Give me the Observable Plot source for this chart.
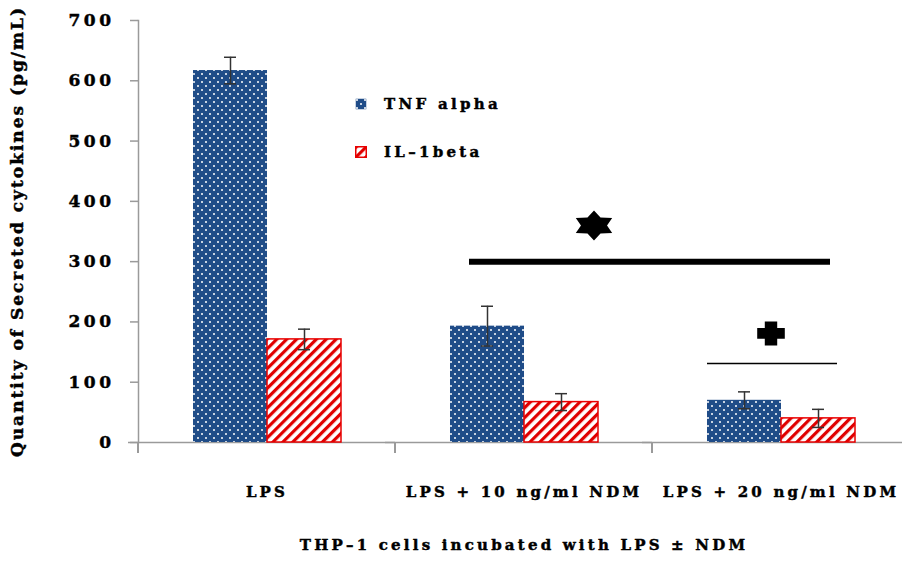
<!DOCTYPE html>
<html><head><meta charset="utf-8">
<script src="https://cdn.jsdelivr.net/npm/d3@7"></script>
<script src="https://cdn.jsdelivr.net/npm/@observablehq/plot@0.6"></script>
<style>
body{margin:0;background:#fff;}
#wrap{position:relative;width:902px;height:561px;overflow:hidden;}
#wrap svg text{stroke:#000;stroke-width:0.45px;}
#wrap svg g[aria-label="y-axis label"] text{letter-spacing:2px;}
#wrap svg g[aria-label="y-axis tick label"] text{letter-spacing:3.5px;}
.leg{position:absolute;left:355px;font-family:"DejaVu Serif",serif;font-weight:bold;font-size:15px;letter-spacing:3.3px;color:#000;display:flex;align-items:center;gap:17px;-webkit-text-stroke:0.45px #000;}
</style></head><body><div id="wrap"></div>
<script>
// ---- data ----
const groups = ["LPS", "LPS + 10 ng/ml NDM", "LPS + 20 ng/ml NDM"];
const seriesNames = ["TNF alpha", "IL–1beta"];
const tnfValues = [617, 193, 70];
const tnfErrors = [22, 33, 14];
const ilValues = [171, 67, 40];
const ilErrors = [17, 14, 15];
const yTicks = [0, 100, 200, 300, 400, 500, 600, 700];
const starLine = [{group: "LPS + 10 ng/ml NDM", value: 300}, {group: "LPS + 20 ng/ml NDM", value: 300}];
const starMark = [{group: "LPS + 10 ng/ml NDM", value: 360}];
const crossLine = [{group: "LPS + 20 ng/ml NDM", value: 131}];
const crossMark = [{group: "LPS + 20 ng/ml NDM", value: 181}];
const yTitle = "Quantity of Secreted cytokines (pg/mL)";
const xTitle = "THP–1 cells incubated with LPS ± NDM";

const data = groups.flatMap((g, i) => [
  {group: g, series: seriesNames[0], value: tnfValues[i], err: tnfErrors[i]},
  {group: g, series: seriesNames[1], value: ilValues[i], err: ilErrors[i]}
]);
const ilData = data.filter(d => d.series === seriesNames[1]);

// custom symbols
const star6 = {draw(ctx, size) {
  const R = Math.sqrt(size / Math.PI), r = R * 0.62, sx = 1.4;
  for (let k = 0; k < 12; k++) {
    const a = k * Math.PI / 6, rr = k % 2 ? r : R;
    const x = Math.sin(a) * rr * sx, y = -Math.cos(a) * rr;
    k ? ctx.lineTo(x, y) : ctx.moveTo(x, y);
  }
  ctx.closePath();
}};
const greekCross = {draw(ctx, size) {
  const R = Math.sqrt(size / Math.PI), w = R * 0.45, sx = 1.15;
  const pts = [[-w,-R],[w,-R],[w,-w],[R,-w],[R,w],[w,w],[w,R],[-w,R],[-w,w],[-R,w],[-R,-w],[-w,-w]];
  pts.forEach(([x,y],k) => k ? ctx.lineTo(x*sx,y) : ctx.moveTo(x*sx,y));
  ctx.closePath();
}};

function boundaryTicks(index, scales, values, dimensions) {
  const {marginLeft, height, marginBottom} = dimensions;
  const y0 = height - marginBottom;
  const l = document.createElementNS("http://www.w3.org/2000/svg", "line");
  l.setAttribute("x1", marginLeft); l.setAttribute("x2", marginLeft);
  l.setAttribute("y1", y0); l.setAttribute("y2", y0 + 11);
  l.setAttribute("stroke", "#9a9a9a"); l.setAttribute("stroke-width", 2);
  return l;
}

const plot = Plot.plot({
  width: 902, height: 561,
  marginLeft: 138, marginRight: -7, marginTop: 20, marginBottom: 119,
  style: {fontFamily: '"DejaVu Serif", serif', fontWeight: "bold", fontSize: "16px", color: "#000", background: "transparent", letterSpacing: "3.2px"},
  fx: {domain: groups, padding: 0},
  x: {domain: seriesNames, paddingInner: 0, paddingOuter: 0.72, axis: null},
  y: {domain: [0, 700]},
  color: {type: "ordinal", domain: seriesNames, range: ["url(#pDots)", "url(#pStripes)"]},
  marks: [
    Plot.ruleY([0], {stroke: "#9a9a9a", strokeWidth: 1.5, insetLeft: -10}),
    Plot.frame({anchor: "left", facetAnchor: "left", stroke: "#9a9a9a", strokeWidth: 1.5}),
    boundaryTicks,
    Plot.axisY({ticks: yTicks, tickSize: 8, tickPadding: 16, stroke: "#9a9a9a", strokeWidth: 1.5,
      label: yTitle, labelArrow: "none", labelAnchor: "center", labelOffset: 128, fontSize: 17}),
    Plot.axisFx({anchor: "bottom", tickSize: 0, tickPadding: 44, label: xTitle, labelAnchor: "center", labelOffset: 107, fontSize: 15}),
    Plot.barY(data, {fx: "group", x: "series", y: "value", fill: "series"}),
    Plot.barY(ilData, {fx: "group", x: "series", y: "value", fill: "none", stroke: "#e80000", strokeWidth: 1.5}),
    Plot.ruleX(data, {fx: "group", x: "series", y1: d => d.value - d.err, y2: d => d.value + d.err, stroke: "#333", strokeWidth: 1.5}),
    Plot.tickY(data, {fx: "group", x: "series", y: d => d.value + d.err, stroke: "#333", strokeWidth: 1.5, inset: 31}),
    Plot.tickY(data, {fx: "group", x: "series", y: d => d.value - d.err, stroke: "#333", strokeWidth: 1.5, inset: 31}),
    Plot.ruleY(starLine.slice(0, 1), {fx: "group", y: "value", stroke: "#000", strokeWidth: 6, insetLeft: 74}),
    Plot.ruleY(starLine.slice(1), {fx: "group", y: "value", stroke: "#000", strokeWidth: 6, insetRight: 79}),
    Plot.dot(starMark, {fx: "group", y: "value", symbol: star6, r: 15, fill: "#000", dx: 70}),
    Plot.ruleY(crossLine, {fx: "group", y: "value", stroke: "#000", strokeWidth: 1.5, insetLeft: 55, insetRight: 72}),
    Plot.dot(crossMark, {fx: "group", y: "value", symbol: greekCross, r: 12, fill: "#000", dx: -10})
  ]
});

d3.select(plot).insert("defs", ":first-child").html(`
  <pattern id="pDots" patternUnits="userSpaceOnUse" width="8" height="8">
    <rect width="8" height="8" fill="#1f4c88"/>
    <circle cx="2" cy="2" r="1" fill="#fff"/>
    <circle cx="6" cy="6" r="1" fill="#fff"/>
  </pattern>
  <pattern id="pStripes" patternUnits="userSpaceOnUse" width="7" height="7" patternTransform="rotate(45)">
    <rect width="7" height="7" fill="#fff"/>
    <rect width="3.2" height="7" fill="#e00000"/>
  </pattern>`);

const wrap = document.getElementById("wrap");
wrap.appendChild(plot);
const legendItems = [
  {name: seriesNames[0], top: 95, fill: "url(#pDots)", stroke: "none"},
  {name: seriesNames[1], top: 143, fill: "url(#pStripes)", stroke: "#e80000"}
];
for (const it of legendItems) {
  const div = document.createElement("div");
  div.className = "leg";
  div.style.top = it.top + "px";
  div.innerHTML = `<svg width="12" height="12"><rect x="0.75" y="0.75" width="10.5" height="10.5" fill="${it.fill}" stroke="${it.stroke}" stroke-width="1.5"/></svg><span>${it.name}</span>`;
  wrap.appendChild(div);
}
</script></body></html>
